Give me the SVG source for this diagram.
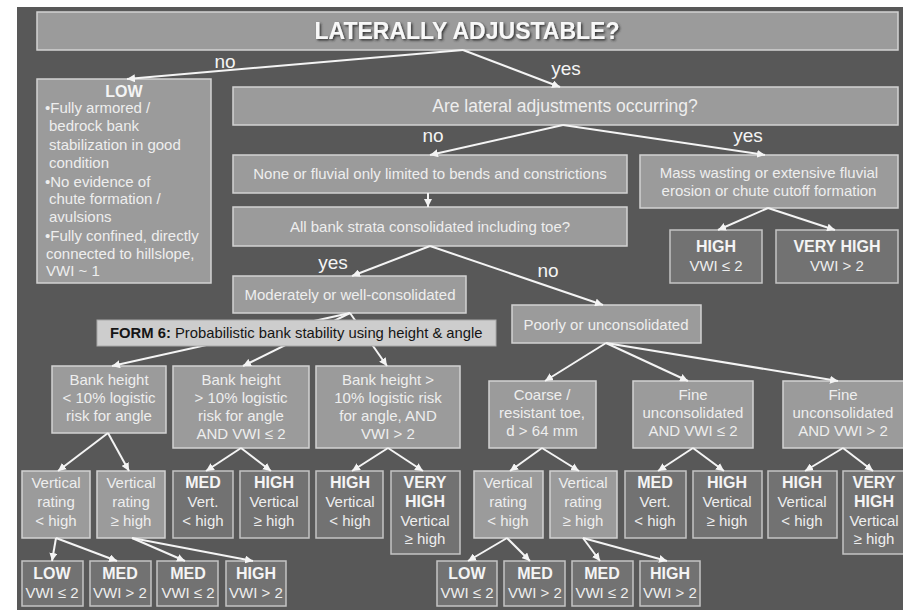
<svg xmlns="http://www.w3.org/2000/svg" width="903" height="610" viewBox="0 0 903 610">
<defs>
<marker id="ah" markerUnits="userSpaceOnUse" markerWidth="9" markerHeight="8" refX="8" refY="4" orient="auto">
<path d="M0,0 L8,4 L0,8 Z" fill="#f4f4f4"/>
</marker>
<filter id="sh" x="-5%" y="-30%" width="110%" height="160%">
<feDropShadow dx="1.5" dy="1.5" stdDeviation="0.8" flood-color="#2a2a2a" flood-opacity="0.9"/>
</filter>
</defs>
<style>
.q{fill:#9b9b9b;stroke:#d2d2d2;stroke-width:1.5}
.r{fill:#727272;stroke:#c4c4c4;stroke-width:1.5}
.f{fill:#cdcdcd;stroke:#a8a8a8;stroke-width:1}
.t{fill:#eeeeee;font-family:"Liberation Sans",Arial,sans-serif;font-size:15px;text-anchor:middle}
.tl{fill:#eeeeee;font-family:"Liberation Sans",Arial,sans-serif;font-size:15px}
.b{font-weight:bold;font-size:16px;fill:#f4f4f4}
.lbl{fill:#f4f4f4;font-family:"Liberation Sans",Arial,sans-serif;font-size:19px;text-anchor:middle}
.c line{stroke:#f4f4f4;stroke-width:2;marker-end:url(#ah)}
</style>
<rect x="0" y="0" width="903" height="610" fill="#ffffff"/>
<rect x="17" y="7" width="886" height="603" fill="#585858"/>

<g id="n-title">
<rect class="q" x="37" y="12" width="861" height="38"/>
<text x="467" y="39" filter="url(#sh)" style="fill:#f8f8f8;font-family:'Liberation Sans',Arial,sans-serif;font-size:23px;font-weight:bold;text-anchor:middle">LATERALLY ADJUSTABLE?</text>
</g>

<g id="n-low">
<rect class="q" x="37" y="79" width="174" height="204"/>
<text class="t b" x="124" y="97">LOW</text>
<text class="tl" x="45" y="113">•Fully armored /</text>
<text class="tl" x="49" y="131">bedrock bank</text>
<text class="tl" x="49" y="150">stabilization  in good</text>
<text class="tl" x="49" y="168">condition</text>
<text class="tl" x="45" y="187">•No evidence of</text>
<text class="tl" x="49" y="204">chute formation /</text>
<text class="tl" x="49" y="222">avulsions</text>
<text class="tl" x="45" y="241">•Fully confined, directly</text>
<text class="tl" x="46" y="259">connected to hillslope,</text>
<text class="tl" x="46" y="276">VWI ~ 1</text>
</g>

<g id="n-are">
<rect class="q" x="233" y="87" width="665" height="38"/>
<text class="t" x="565" y="112" style="font-size:17.5px">Are lateral adjustments occurring?</text>
</g>

<g id="n-none">
<rect class="q" x="233" y="155" width="394" height="38"/>
<text class="t" x="430" y="179">None  or fluvial only limited to bends and constrictions</text>
</g>

<g id="n-allbank">
<rect class="q" x="233" y="207" width="394" height="39"/>
<text class="t" x="430" y="232">All bank strata consolidated including toe?</text>
</g>

<g id="n-mass">
<rect class="q" x="640" y="155" width="258" height="53"/>
<text class="t" x="769" y="178">Mass wasting  or extensive  fluvial</text>
<text class="t" x="769" y="196">erosion or chute cutoff formation</text>
</g>

<g id="n-mass-high">
<rect class="r" x="670" y="230" width="92" height="53"/>
<text class="t b" x="716" y="252">HIGH</text>
<text class="t" x="716" y="271">VWI ≤ 2</text>
</g>

<g id="n-mass-vhigh">
<rect class="r" x="776" y="230" width="122" height="53"/>
<text class="t b" x="837" y="252">VERY HIGH</text>
<text class="t" x="837" y="271">VWI &gt; 2</text>
</g>

<g id="n-moderate">
<rect class="q" x="233" y="276" width="233" height="37"/>
<text class="t" x="350" y="300">Moderately or well-consolidated</text>
</g>

<g id="n-poorly">
<rect class="q" x="512" y="305" width="189" height="38"/>
<text class="t" x="606" y="330">Poorly or unconsolidated</text>
</g>

<g id="n-bankA">
<rect class="q" x="52" y="366" width="114" height="67"/>
<text class="t" x="109" y="385">Bank height</text>
<text class="t" x="109" y="403">&lt; 10% logistic</text>
<text class="t" x="109" y="421">risk for angle</text>
</g>

<g id="n-bankB">
<rect class="q" x="173" y="366" width="136" height="82"/>
<text class="t" x="241" y="385">Bank height</text>
<text class="t" x="241" y="403">&gt; 10% logistic</text>
<text class="t" x="241" y="421">risk for angle</text>
<text class="t" x="241" y="439">AND VWI ≤ 2</text>
</g>

<g id="n-bankC">
<rect class="q" x="316" y="366" width="144" height="82"/>
<text class="t" x="388" y="385">Bank height &gt;</text>
<text class="t" x="388" y="403">10% logistic risk</text>
<text class="t" x="388" y="421">for angle, AND</text>
<text class="t" x="388" y="439">VWI &gt; 2</text>
</g>

<g id="n-coarse">
<rect class="q" x="489" y="381" width="107" height="67"/>
<text class="t" x="542" y="400">Coarse /</text>
<text class="t" x="542" y="418">resistant toe,</text>
<text class="t" x="542" y="436">d &gt; 64 mm</text>
</g>

<g id="n-fine1">
<rect class="q" x="633" y="381" width="120" height="67"/>
<text class="t" x="693" y="400">Fine</text>
<text class="t" x="693" y="418">unconsolidated</text>
<text class="t" x="693" y="436">AND VWI ≤ 2</text>
</g>

<g id="n-fine2">
<rect class="q" x="783" y="381" width="122" height="67"/>
<text class="t" x="843" y="400">Fine</text>
<text class="t" x="843" y="418">unconsolidated</text>
<text class="t" x="843" y="436">AND VWI &gt; 2</text>
</g>

<g id="n-v1">
<rect class="q" x="22" y="471" width="68" height="67"/>
<text class="t" x="56" y="488">Vertical</text>
<text class="t" x="56" y="507">rating</text>
<text class="t" x="56" y="526">&lt; high</text>
</g>
<g id="n-v2">
<rect class="q" x="97" y="471" width="68" height="67"/>
<text class="t" x="131" y="488">Vertical</text>
<text class="t" x="131" y="507">rating</text>
<text class="t" x="131" y="526">≥ high</text>
</g>
<g id="n-b-med">
<rect class="r" x="173" y="471" width="60" height="67"/>
<text class="t b" x="203" y="488">MED</text>
<text class="t" x="203" y="507">Vert.</text>
<text class="t" x="203" y="526">&lt; high</text>
</g>
<g id="n-b-high">
<rect class="r" x="240" y="471" width="69" height="67"/>
<text class="t b" x="274" y="488">HIGH</text>
<text class="t" x="274" y="507">Vertical</text>
<text class="t" x="274" y="526">≥ high</text>
</g>
<g id="n-c-high">
<rect class="r" x="316" y="471" width="67" height="67"/>
<text class="t b" x="350" y="488">HIGH</text>
<text class="t" x="350" y="507">Vertical</text>
<text class="t" x="350" y="526">&lt; high</text>
</g>
<g id="n-c-vhigh">
<rect class="r" x="391" y="471" width="69" height="83"/>
<text class="t b" x="425" y="488">VERY</text>
<text class="t b" x="425" y="507">HIGH</text>
<text class="t" x="425" y="526">Vertical</text>
<text class="t" x="425" y="544">≥ high</text>
</g>
<g id="n-v3">
<rect class="q" x="474" y="471" width="69" height="67"/>
<text class="t" x="508" y="488">Vertical</text>
<text class="t" x="508" y="507">rating</text>
<text class="t" x="508" y="526">&lt; high</text>
</g>
<g id="n-v4">
<rect class="q" x="550" y="471" width="67" height="67"/>
<text class="t" x="583" y="488">Vertical</text>
<text class="t" x="583" y="507">rating</text>
<text class="t" x="583" y="526">≥ high</text>
</g>
<g id="n-f1-med">
<rect class="r" x="625" y="471" width="61" height="67"/>
<text class="t b" x="655" y="488">MED</text>
<text class="t" x="655" y="507">Vert.</text>
<text class="t" x="655" y="526">&lt; high</text>
</g>
<g id="n-f1-high">
<rect class="r" x="693" y="471" width="69" height="67"/>
<text class="t b" x="727" y="488">HIGH</text>
<text class="t" x="727" y="507">Vertical</text>
<text class="t" x="727" y="526">≥ high</text>
</g>
<g id="n-f2-high">
<rect class="r" x="768" y="471" width="69" height="67"/>
<text class="t b" x="802" y="488">HIGH</text>
<text class="t" x="802" y="507">Vertical</text>
<text class="t" x="802" y="526">&lt; high</text>
</g>
<g id="n-f2-vhigh">
<rect class="r" x="843" y="471" width="62" height="83"/>
<text class="t b" x="874" y="488">VERY</text>
<text class="t b" x="874" y="507">HIGH</text>
<text class="t" x="874" y="526">Vertical</text>
<text class="t" x="874" y="544">≥ high</text>
</g>

<g id="n-l1">
<rect class="r" x="22" y="561" width="61" height="45"/>
<text class="t b" x="52" y="579">LOW</text>
<text class="t" x="52" y="598">VWI ≤ 2</text>
</g>
<g id="n-l2">
<rect class="r" x="90" y="561" width="61" height="45"/>
<text class="t b" x="120" y="579">MED</text>
<text class="t" x="120" y="598">VWI &gt; 2</text>
</g>
<g id="n-l3">
<rect class="r" x="157" y="561" width="61" height="45"/>
<text class="t b" x="188" y="579">MED</text>
<text class="t" x="188" y="598">VWI ≤ 2</text>
</g>
<g id="n-l4">
<rect class="r" x="226" y="561" width="60" height="45"/>
<text class="t b" x="256" y="579">HIGH</text>
<text class="t" x="256" y="598">VWI &gt; 2</text>
</g>
<g id="n-l5">
<rect class="r" x="437" y="561" width="60" height="45"/>
<text class="t b" x="467" y="579">LOW</text>
<text class="t" x="467" y="598">VWI ≤ 2</text>
</g>
<g id="n-l6">
<rect class="r" x="504" y="561" width="61" height="45"/>
<text class="t b" x="535" y="579">MED</text>
<text class="t" x="535" y="598">VWI &gt; 2</text>
</g>
<g id="n-l7">
<rect class="r" x="572" y="561" width="61" height="45"/>
<text class="t b" x="602" y="579">MED</text>
<text class="t" x="602" y="598">VWI ≤ 2</text>
</g>
<g id="n-l8">
<rect class="r" x="640" y="561" width="60" height="45"/>
<text class="t b" x="670" y="579">HIGH</text>
<text class="t" x="670" y="598">VWI &gt; 2</text>
</g>

<g id="connectors" class="c">
<line x1="463" y1="50" x2="127" y2="79"/>
<line x1="463" y1="50" x2="560" y2="87"/>
<line x1="563" y1="125" x2="430" y2="155"/>
<line x1="563" y1="125" x2="765" y2="155"/>
<line x1="428" y1="193" x2="428" y2="207"/>
<line x1="430" y1="246" x2="352" y2="276"/>
<line x1="430" y1="246" x2="603" y2="305"/>
<line x1="768" y1="208" x2="718" y2="230"/>
<line x1="768" y1="208" x2="835" y2="230"/>
<line x1="350" y1="313" x2="112" y2="366"/>
<line x1="350" y1="313" x2="243" y2="366"/>
<line x1="350" y1="313" x2="387" y2="366"/>
<line x1="606" y1="343" x2="545" y2="381"/>
<line x1="606" y1="343" x2="688" y2="381"/>
<line x1="606" y1="343" x2="838" y2="381"/>
<line x1="108" y1="433" x2="58" y2="471"/>
<line x1="108" y1="433" x2="129" y2="471"/>
<line x1="241" y1="448" x2="206" y2="471"/>
<line x1="241" y1="448" x2="271" y2="471"/>
<line x1="388" y1="448" x2="352" y2="471"/>
<line x1="388" y1="448" x2="423" y2="471"/>
<line x1="542" y1="448" x2="510" y2="471"/>
<line x1="542" y1="448" x2="579" y2="471"/>
<line x1="693" y1="448" x2="658" y2="471"/>
<line x1="693" y1="448" x2="724" y2="471"/>
<line x1="843" y1="448" x2="805" y2="471"/>
<line x1="843" y1="448" x2="873" y2="471"/>
<line x1="56" y1="538" x2="52" y2="561"/>
<line x1="56" y1="538" x2="117" y2="561"/>
<line x1="132" y1="538" x2="185" y2="561"/>
<line x1="132" y1="538" x2="253" y2="561"/>
<line x1="507" y1="538" x2="468" y2="561"/>
<line x1="507" y1="538" x2="530" y2="561"/>
<line x1="583" y1="538" x2="600" y2="561"/>
<line x1="583" y1="538" x2="667" y2="561"/>
</g>

<g id="n-form6">
<rect class="f" x="97" y="320" width="399" height="26"/>
<text x="110" y="338" style="fill:#151515;font-family:'Liberation Sans',Arial,sans-serif;font-size:14.8px"><tspan font-weight="bold">FORM 6:</tspan> Probabilistic bank stability using height &amp; angle</text>
</g>

<g id="labels">
<text class="lbl" x="225" y="68">no</text>
<text class="lbl" x="566" y="75">yes</text>
<text class="lbl" x="433" y="142">no</text>
<text class="lbl" x="748" y="142">yes</text>
<text class="lbl" x="333" y="269">yes</text>
<text class="lbl" x="548" y="277">no</text>
</g>
</svg>
